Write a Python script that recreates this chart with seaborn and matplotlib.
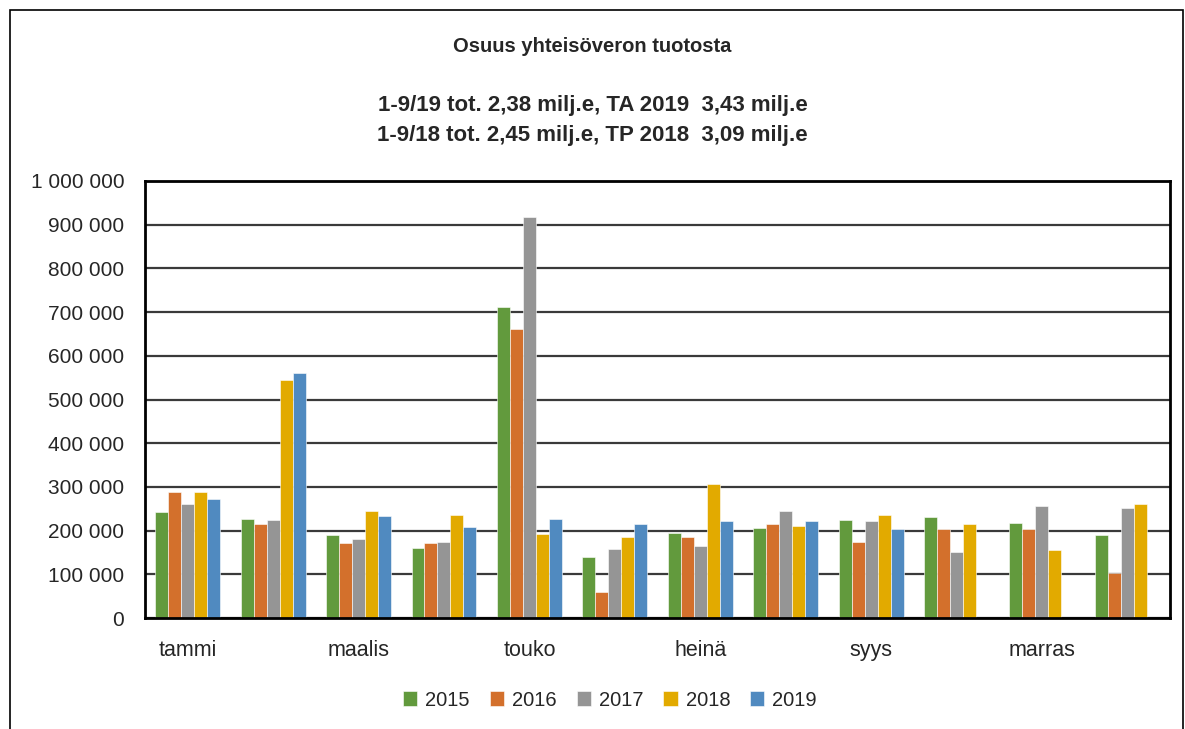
import pandas as pd
import matplotlib.pyplot as plt
import numpy as np
import seaborn as sns
from matplotlib.patches import Rectangle
from matplotlib.ticker import FuncFormatter

sns.set_style("white")
plt.rcParams['font.family'] = ['Liberation Sans', 'DejaVu Sans']

months = ['tammi', 'helmi', 'maalis', 'huhti', 'touko', 'kesä',
          'heinä', 'elo', 'syys', 'loka', 'marras', 'joulu']
years = ['2015', '2016', '2017', '2018', '2019']

v2015 = [242000, 227000, 189000, 160000, 712000, 139000, 195000, 206000, 224000, 230000, 218000, 189000]
v2016 = [289000, 215000, 171000, 171000, 661000, 60000, 186000, 215000, 174000, 203000, 203000, 103000]
v2017 = [260000, 224000, 180000, 174000, 917000, 157000, 165000, 245000, 221000, 150000, 256000, 251000]
v2018 = [289000, 544000, 244000, 235000, 192000, 186000, 307000, 210000, 235000, 215000, 156000, 260000]
v2019 = [272000, 560000, 233000, 209000, 227000, 215000, 221000, 221000, 203000, None, None, None]

colors = ['#629a3d', '#d3702c', '#959595', '#e2aa00', '#508ac0']

rows = []
for y, vals in zip(years, [v2015, v2016, v2017, v2018, v2019]):
    for m, v in zip(months, vals):
        if v is not None:
            rows.append({'kk': m, 'vuosi': y, 'arvo': v})
df = pd.DataFrame(rows)

fig = plt.figure(figsize=(11.85, 7.29), dpi=100)
ax = fig.add_axes([145 / 1185, 1 - 618 / 729, 1025 / 1185, 437 / 729])

sns.barplot(data=df, x='kk', y='arvo', hue='vuosi', order=months, hue_order=years,
            palette=colors, saturation=1, width=0.76, errorbar=None, ax=ax,
            edgecolor='white', linewidth=0.4)

ax.set_ylim(0, 1000000)
ax.set_yticks(np.arange(0, 1000001, 100000))
ax.yaxis.set_major_formatter(FuncFormatter(lambda v, p: f'{int(v):,}'.replace(',', ' ')))
ax.yaxis.grid(True, color='#3a3a3a', linewidth=1.6)
ax.set_axisbelow(True)
ax.set_xlim(-0.5, 11.5)
ax.set_xticks(range(0, 12, 2))
ax.set_xticklabels(months[::2])
ax.tick_params(axis='x', length=0, pad=16, labelsize=15.5)
ax.tick_params(axis='y', length=0, pad=15, labelsize=15)
ax.set_xlabel('')
ax.set_ylabel('')
for s in ax.spines.values():
    s.set_visible(True)
    s.set_color('black')
    s.set_linewidth(2)

ax.get_legend().remove()
handles, labels = ax.get_legend_handles_labels()
fig.legend(handles, labels, loc='center', bbox_to_anchor=(610 / 1185, 1 - 700 / 729), ncol=5,
           frameon=False, fontsize=14.5, handlelength=0.7, handleheight=0.7,
           handletextpad=0.4, columnspacing=1.0)

fig.text(0.5, 1 - 47 / 729, 'Osuus yhteisöveron tuotosta', ha='center', va='center',
         fontsize=14.5, fontweight='bold')
fig.text(0.5, 1 - 106 / 729, '1-9/19 tot. 2,38 milj.e, TA 2019  3,43 milj.e', ha='center',
         va='center', fontsize=16, fontweight='bold')
fig.text(0.5, 1 - 136 / 729, '1-9/18 tot. 2,45 milj.e, TP 2018  3,09 milj.e', ha='center',
         va='center', fontsize=16, fontweight='bold')

fig.patches.append(Rectangle((10 / 1185, -0.05), 1173 / 1185, 1.05 - 10 / 729,
                             transform=fig.transFigure, fill=False, edgecolor='black', linewidth=1.2))

fig.savefig('out.png', dpi=100)
